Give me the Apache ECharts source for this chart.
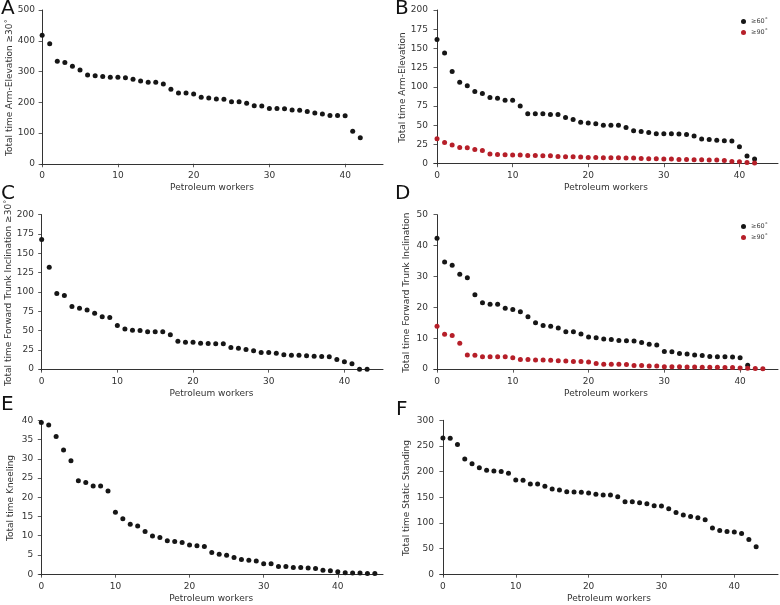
<!DOCTYPE html>
<html>
<head>
    <meta charset="utf-8">
    <title>Petroleum workers</title>
    <script src="https://cdn.jsdelivr.net/npm/echarts@6/dist/echarts.min.js"></script>
    <style type="text/css">
        html, body { margin: 0; padding: 0; background: #fff; }
        #main { width: 780px; height: 605px; }
    </style>
</head>
<body>
<div id="main"></div>
<script>
    // A: arm elevation >=30
    var armElev30 = [418, 390, 333, 329, 317, 305, 289, 286, 284, 281, 281, 280, 275, 269, 265, 265, 259, 242, 230, 230,
        227, 216, 214, 211, 210, 202, 202, 197, 189, 188, 180, 180, 179, 175, 174, 170, 165, 162, 157, 157, 156, 106, 85];
    // B: arm elevation >=60 / >=90
    var armElev60 = [161.5, 144, 120, 106, 101.5, 94, 91.5, 86, 85, 82.5, 82.5, 75, 65, 65, 65, 64, 64, 60, 57.5, 54,
        53, 52, 50, 50, 50, 47, 43, 42, 40.5, 39, 39, 39, 38.5, 38, 36, 32, 31.5, 30.5, 30, 29.5, 22, 10, 6];
    var armElev90 = [32.4, 27.6, 24.2, 21.2, 20.7, 18.6, 17.3, 12.5, 12, 11.7, 11.2, 11.2, 10.8, 10.8, 10.4, 10.4, 9.5, 9, 9, 8.6,
        8.2, 8.2, 7.8, 7.8, 7.8, 7.3, 7.3, 6.9, 6.5, 6.5, 6, 6, 5.6, 5.6, 5.2, 5.2, 4.8, 4.8, 4.3, 3, 2.6, 1.7, 0.9];
    // C: forward trunk inclination >=30
    var trunk30 = [168, 132, 98, 95.5, 81, 79, 76.5, 72.5, 68, 67, 56.5, 52, 50.5, 50, 48.4, 48.4, 48.4, 44.5, 36, 35,
        35, 33.7, 33.3, 32.8, 32.8, 28, 27.2, 25.5, 23.8, 21.6, 21.6, 20.7, 18.6, 18.1, 18.1, 17.3, 16.8, 16.4, 16, 12.5,
        9.5, 6.9, 0, 0];
    // D: forward trunk inclination >=60 / >=90
    var trunk60 = [42.4, 34.7, 33.6, 30.7, 29.6, 24.1, 21.5, 21, 21, 19.7, 19.3, 18.6, 17, 15, 14.1, 13.9, 13.3, 12.1, 12.1, 11.4,
        10.4, 10.2, 9.8, 9.6, 9.3, 9.2, 9.1, 8.6, 8.1, 7.8, 5.7, 5.6, 5.1, 4.9, 4.6, 4.4, 4.1, 4, 4, 3.9, 3.7, 1.3];
    var trunk90 = [13.9, 11.3, 10.9, 8.4, 4.6, 4.5, 4, 4, 4, 4, 3.7, 3.1, 3.1, 3, 3, 2.9, 2.7, 2.6, 2.5, 2.5,
        2.3, 1.8, 1.6, 1.6, 1.6, 1.5, 1.2, 1.2, 1, 1, 0.8, 0.8, 0.8, 0.7, 0.7, 0.6, 0.6, 0.6, 0.5, 0.5, 0.4, 0.3, 0.2, 0.1];
    // E: kneeling
    var kneeling = [39.4, 38.8, 35.8, 32.3, 29.5, 24.3, 23.8, 22.9, 22.9, 21.6, 16.1, 14.4, 13, 12.5, 11.1, 9.9, 9.5, 8.7, 8.5, 8.2,
        7.6, 7.4, 7.2, 5.6, 5.2, 4.9, 4.3, 3.8, 3.6, 3.4, 2.7, 2.7, 2, 2, 1.7, 1.7, 1.6, 1.5, 1, 0.9, 0.6, 0.35, 0.3, 0.3, 0.2, 0.2];
    // F: static standing
    var standing = [265.6, 265, 252.6, 224.6, 215.5, 207.7, 202.5, 201, 200, 196.6, 183.6, 183, 175.8, 175.8, 171.2, 166, 164, 160.8, 160.2, 159.5,
        158.2, 155.6, 154.3, 154.3, 151, 141.3, 141.3, 139.3, 137.4, 133.5, 132.8, 127.6, 120.4, 115.2, 112.6, 110, 106.1, 89.8, 85.3, 83.3,
        82, 79.4, 67.7, 53.4];

    var xTicks = [0, 10, 20, 30, 40];
    var yTicksA = [0, 100, 200, 300, 400, 500];
    var yTicksB = [0, 25, 50, 75, 100, 125, 150, 175, 200];
    var yTicksC = [0, 25, 50, 75, 100, 125, 150, 175, 200];
    var yTicksD = [0, 10, 20, 30, 40, 50];
    var yTicksE = [0, 5, 10, 15, 20, 25, 30, 35, 40];
    var yTicksF = [0, 50, 100, 150, 200, 250, 300];

    var name60 = '≥60˚';
    var name90 = '≥90˚';
    var black = '#161616';
    var red = '#b61f29';
    var font = 'DejaVu Sans';

    // panel layout: grid box + axis ranges
    var panels = [
        {letter: 'A', lx: 1, ly: -1, left: 41, top: 10, width: 342, height: 155, xmin: -0.15, xmax: 45, ymin: -4, ymax: 500,
            yTicks: yTicksA, yName: 'Total time Arm-Elevation ≥30˚', gap: 26},
        {letter: 'B', lx: 395, ly: -1, left: 434, top: 10, width: 344, height: 155, xmin: -0.4, xmax: 45.1, ymin: -1.7, ymax: 200,
            yTicks: yTicksB, yName: 'Total time Arm-Elevation', gap: 23},
        {letter: 'C', lx: 1, ly: 184, left: 40, top: 214.7, width: 343, height: 156, xmin: -0.22, xmax: 45.1, ymin: -2, ymax: 200,
            yTicks: yTicksC, yName: 'Total time Forward Trunk Inclination ≥30˚', gap: 25},
        {letter: 'D', lx: 395, ly: 184, left: 434, top: 214.7, width: 344, height: 156, xmin: -0.4, xmax: 45, ymin: -0.5, ymax: 50,
            yTicks: yTicksD, yName: 'Total time Forward Trunk Inclination', gap: 23},
        {letter: 'E', lx: 1, ly: 395, left: 39.3, top: 420.3, width: 343.7, height: 155.4, xmin: -0.27, xmax: 46.1, ymin: -0.4, ymax: 40,
            yTicks: yTicksE, yName: 'Total time Kneeling', gap: 24},
        {letter: 'F', lx: 396, ly: 400, left: 440, top: 420.3, width: 338, height: 155.4, xmin: -0.4, xmax: 46, ymin: -3, ymax: 300,
            yTicks: yTicksF, yName: 'Total time Static Standing', gap: 29}
    ];

    function toPoints(arr) {
        return arr.map(function (v, i) { return [i, v]; });
    }

    var axisColor = '#333';
    var axisLine = {show: true, lineStyle: {color: axisColor, width: 1}};
    var tickLine = {color: axisColor, width: 0.8};
    var labelStyle = {color: axisColor, fontSize: 9, fontFamily: font};

    var grids = [], xAxes = [], yAxes = [], graphics = [];
    panels.forEach(function (p, i) {
        grids.push({left: p.left, top: p.top, width: p.width, height: p.height});
        xAxes.push({
            type: 'value', gridIndex: i, min: p.xmin, max: p.xmax,
            name: 'Petroleum workers', nameLocation: 'middle', nameGap: 18,
            nameTextStyle: {color: axisColor, fontSize: 9, fontFamily: font},
            axisLine: axisLine,
            axisTick: {show: true, length: 3.5, lineStyle: tickLine, customValues: xTicks},
            axisLabel: Object.assign({margin: 6, customValues: xTicks}, labelStyle),
            splitLine: {show: false}
        });
        yAxes.push({
            type: 'value', gridIndex: i, min: p.ymin, max: p.ymax,
            name: p.yName, nameLocation: 'middle', nameGap: p.gap,
            nameTextStyle: {color: axisColor, fontSize: 9, fontFamily: font},
            axisLine: axisLine,
            axisTick: {show: true, length: 3.5, lineStyle: tickLine, customValues: p.yTicks},
            axisLabel: Object.assign({margin: 6, customValues: p.yTicks}, labelStyle),
            splitLine: {show: false}
        });
        graphics.push({
            type: 'text', left: p.lx, top: p.ly,
            style: {text: p.letter, fontSize: 20, fontFamily: font, fill: '#111'}
        });
    });

    function scatter(name, arr, idx, color) {
        return {
            name: name, type: 'scatter', xAxisIndex: idx, yAxisIndex: idx,
            data: toPoints(arr), symbol: 'circle', symbolSize: 5,
            itemStyle: {color: color, opacity: 1}, silent: true
        };
    }

    var series = [
        scatter('A', armElev30, 0, black),
        scatter(name60, armElev60, 1, black),
        scatter(name90, armElev90, 1, red),
        scatter('C', trunk30, 2, black),
        scatter(name60, trunk60, 3, black),
        scatter(name90, trunk90, 3, red),
        scatter('E', kneeling, 4, black),
        scatter('F', standing, 5, black)
    ];

    function legendAt(top) {
        return {
            data: [name60, name90], orient: 'vertical', left: 736, top: top,
            icon: 'circle', itemWidth: 5, itemHeight: 5, itemGap: 4,
            textStyle: {fontSize: 6.5, color: '#444', fontFamily: font},
            selectedMode: false
        };
    }

    var myChart = echarts.init(document.getElementById('main'));
    var option = {
        backgroundColor: '#fff',
        animation: false,
        grid: grids,
        xAxis: xAxes,
        yAxis: yAxes,
        legend: [legendAt(13), legendAt(218)],
        graphic: graphics,
        series: series
    };
    myChart.setOption(option);
</script>
</body>
</html>
